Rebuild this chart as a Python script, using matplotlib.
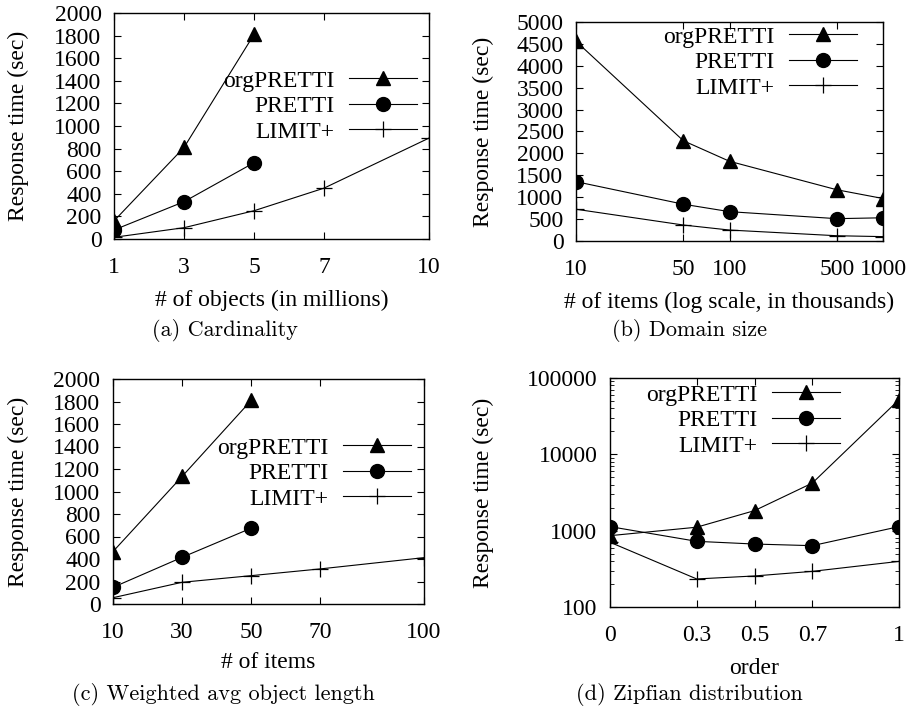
import matplotlib
matplotlib.use("Agg")
import matplotlib.pyplot as plt
from matplotlib.ticker import FixedLocator, NullFormatter, LogLocator, NullLocator

SERIF = ["Liberation Serif", "DejaVu Serif"]
plt.rcParams['font.family'] = SERIF
plt.rcParams['mathtext.fontset'] = 'cm'

series_names = ["orgPRETTI", "PRETTI", "LIMIT+"]

# (a) Cardinality
a_x = [1, 3, 5, 7, 10]
a_org = [160, 810, 1810]
a_pretti = [80, 330, 675]
a_limit = [15, 100, 250, 450, 893]

# (b) Domain size
b_x = [10, 50, 100, 500, 1000]
b_org = [4560, 2290, 1820, 1170, 970]
b_pretti = [1355, 840, 670, 510, 530]
b_limit = [725, 365, 250, 120, 100]

# (c) Weighted avg object length
c_x = [10, 30, 50, 70, 100]
c_org = [466, 1134, 1810]
c_pretti = [148, 415, 674]
c_limit = [56, 193, 252, 312, 412]

# (d) Zipfian distribution
d_x = [0, 0.3, 0.5, 0.7, 1]
d_org = [860, 1110, 1830, 4200, 52000]
d_pretti = [1130, 725, 668, 636, 1130]
d_limit = [705, 233, 255, 293, 396]

fig = plt.figure(figsize=(9.07, 7.11), dpi=100)
FS = 17
W, H = 907, 711

def axes_px(l, r, t, b):
    return fig.add_axes([l / W, 1 - b / H, (r - l) / W, (b - t) / H])

def style(ax):
    ax.tick_params(direction='in', top=True, right=True, length=5, width=0.8,
                   labelsize=FS)
    ax.tick_params(axis='x', pad=13)
    ax.tick_params(axis='y', pad=9)
    ax.tick_params(which='minor', direction='in', top=True, right=True, length=3, width=0.6)
    for s in ax.spines.values():
        s.set_linewidth(1.0)

def plot_series(ax, xs, org, pre, lim):
    kw = dict(color='black', lw=0.8)
    ax.plot(xs[:len(org)], org, marker='^', ms=10, label=series_names[0], **kw)
    ax.plot(xs[:len(pre)], pre, marker='o', ms=10, label=series_names[1], **kw)
    ax.plot(xs[:len(lim)], lim, marker='+', ms=11, mew=0.9, label=series_names[2], **kw)

def legend(ax, right_px, top_px):
    leg = ax.legend(loc='upper right', bbox_to_anchor=(right_px / W, 1 - top_px / H),
                    bbox_transform=fig.transFigure, frameon=False, markerfirst=False,
                    fontsize=FS, handlelength=2.9, handletextpad=0.6,
                    labelspacing=0.17, borderpad=0, borderaxespad=0)
    return leg

def ylab(ax, x_px):
    ax.set_ylabel("Response time (sec)", fontsize=FS)
    bb = ax.get_position()
    ax.yaxis.set_label_coords((x_px / W - bb.x0) / bb.width, 0.5)
    ax.yaxis.label.set_va('center')

def xlab(ax, text, y_px):
    ax.set_xlabel(text, fontsize=FS)
    bb = ax.get_position()
    ax.xaxis.set_label_coords(0.5, ((1 - y_px / H) - bb.y0) / bb.height)
    ax.xaxis.label.set_va('center')

def caption(text, x_px, y_px):
    fig.text(x_px / W, 1 - y_px / H, text, family='cmr10', fontsize=16,
             ha='center', va='center')

# (a)
ax = axes_px(114, 429, 13, 239)
plot_series(ax, a_x, a_org, a_pretti, a_limit)
ax.set_xlim(1, 10); ax.set_ylim(0, 2000)
ax.set_xticks(a_x); ax.set_yticks(range(0, 2001, 200))
style(ax)
ylab(ax, 18); xlab(ax, "# of objects (in millions)", 300)
legend(ax, 417, 70)
caption("(a) Cardinality", 225, 331)

# (b)
ax = axes_px(576, 883, 22, 241)
plot_series(ax, b_x, b_org, b_pretti, b_limit)
ax.set_xscale('log')
ax.set_xlim(10, 1000); ax.set_ylim(0, 5000)
ax.xaxis.set_major_locator(FixedLocator(b_x))
ax.xaxis.set_minor_locator(NullLocator())
ax.set_xticklabels([str(v) for v in b_x])
ax.set_yticks(range(0, 5001, 500))
style(ax)
ylab(ax, 483); xlab(ax, "# of items (log scale, in thousands)", 302)
legend(ax, 857, 26)
caption("(b) Domain size", 690, 331)

# (c)
ax = axes_px(113, 424, 379, 604)
plot_series(ax, c_x, c_org, c_pretti, c_limit)
ax.set_xlim(10, 100); ax.set_ylim(0, 2000)
ax.set_xticks(c_x); ax.set_yticks(range(0, 2001, 200))
style(ax)
ylab(ax, 18); xlab(ax, "# of items", 663)
legend(ax, 411, 437)
caption("(c) Weighted avg object length", 223, 695)

# (d)
ax = axes_px(610, 899, 378, 607)
plot_series(ax, d_x, d_org, d_pretti, d_limit)
ax.set_yscale('log')
ax.set_xlim(0, 1); ax.set_ylim(100, 100000)
ax.set_xticks(d_x); ax.set_xticklabels(["0", "0.3", "0.5", "0.7", "1"])
ax.yaxis.set_major_locator(FixedLocator([100, 1000, 10000, 100000]))
ax.set_yticklabels(["100", "1000", "10000", "100000"])
ax.yaxis.set_minor_locator(LogLocator(base=10, subs=range(2, 10)))
ax.yaxis.set_minor_formatter(NullFormatter())
style(ax)
ylab(ax, 483); xlab(ax, "order", 668)
legend(ax, 840, 384)
caption("(d) Zipfian distribution", 689, 695)

fig.savefig("out.png", dpi=100)
